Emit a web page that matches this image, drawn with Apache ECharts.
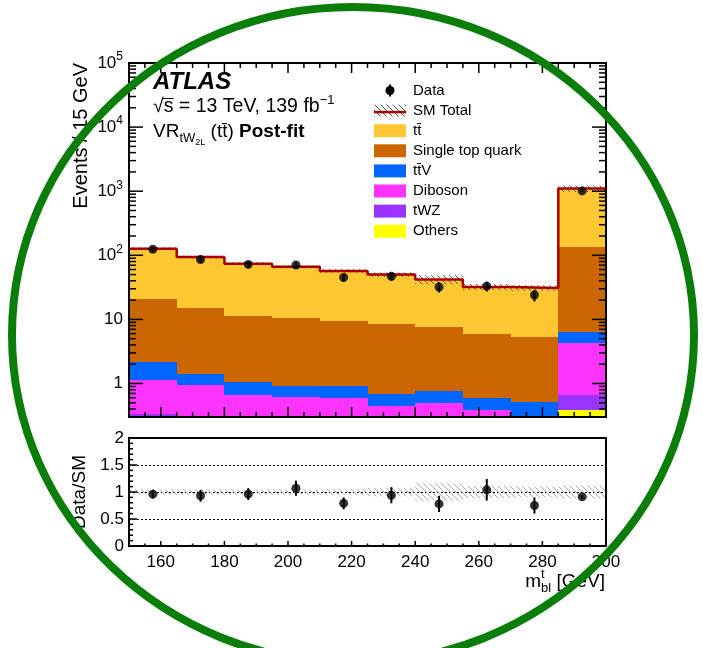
<!DOCTYPE html>
<html><head><meta charset="utf-8">
<script src="https://cdn.jsdelivr.net/npm/echarts@6/dist/echarts.min.js"></script>
<style>html,body{margin:0;padding:0;background:#fff}#c{width:703px;height:648px}</style>
</head><body><div id="c"></div><script>
// ---------------- data ----------------
const binEdges  = [150,165,180,195,210,225,240,255,270,285,300];
const others    = [0.03,0.03,0.03,0.03,0.03,0.03,0.03,0.03,0.03,0.38];
const tWZ       = [0.31,0.22,0.19,0.17,0.17,0.15,0.17,0.12,0.09,0.285];
const diboson   = [0.81,0.70,0.43,0.41,0.40,0.27,0.29,0.23,0.13,3.64];
const ttV       = [1.00,0.47,0.42,0.32,0.31,0.24,0.27,0.21,0.27,2.1];
const singleTop = [18.4,13.8,10.4,9.7,8.4,7.8,6.8,5.4,4.7,128.6];
const ttbar     = [106.5,78.8,62.5,55.4,47.7,41.5,34.4,26.0,25.8,965];
const dataVals  = [124,86,72,70.5,45,47,32,33,24,1010];
const dataErr   = [11,9.3,8.5,8.4,6.7,6.9,5.7,5.7,4.9,32];
const ratioVals = [0.96,0.93,0.96,1.07,0.79,0.94,0.78,1.04,0.75,0.91];
const ratioErr  = [0.08,0.11,0.11,0.14,0.11,0.15,0.15,0.20,0.15,0.03];
const uncRel    = [0.05,0.05,0.05,0.05,0.06,0.08,0.16,0.11,0.10,0.12];
const xLabels   = [160,180,200,220,240,260,280,300];
const yMainMajor = [1,10,100,1000,10000,100000];
const yRatioLabels = [0,0.5,1,1.5,2];

// ---------------- layout / style ----------------
const FONT = "'Liberation Sans', Arial, Helvetica, sans-serif";
const X_LO = 150, X_HI = 300, Y_LO = 0.3, Y_HI = 100000, R_LO = 0, R_HI = 2;
const G1 = {left:129, top:63, width:477, height:354};
const G2 = {left:129, top:438, width:477, height:108};
const procs = [
  {name:'Others', vals:others, color:'#ffff00'},
  {name:'tWZ', vals:tWZ, color:'#9933ff'},
  {name:'Diboson', vals:diboson, color:'#ff33ff'},
  {name:'tt\u0304V', vals:ttV, color:'#0066ff'},
  {name:'Single top quark', vals:singleTop, color:'#cc6600'},
  {name:'tt\u0304', vals:ttbar, color:'#ffc832'}
];
const nb = binEdges.length - 1;
const centers = [];
for (let i = 0; i < nb; i++) centers.push((binEdges[i] + binEdges[i+1]) / 2);

// cumulative stack
const cum = new Array(nb).fill(0);
const stackSeries = [];
procs.forEach((p, k) => {
  const items = [];
  for (let i = 0; i < nb; i++) {
    const b = cum[i]; cum[i] += p.vals[i];
    items.push([binEdges[i], binEdges[i+1], b, cum[i]]);
  }
  stackSeries.push({
    type:'custom', name:p.name, xAxisIndex:0, yAxisIndex:0, z:2+k,
    itemStyle:{color:p.color}, encode:{x:[0,1], y:[2,3]},
    renderItem:(params, api) => {
      const x0 = api.value(0), x1 = api.value(1);
      const b = Math.max(api.value(2), Y_LO), t = api.value(3);
      if (t <= Y_LO) return {type:'group', children:[]};
      const p0 = api.coord([x0, t]), p1 = api.coord([x1, b]);
      const X0 = Math.round(p0[0]), X1 = Math.round(p1[0]), T = Math.round(p0[1]), B = Math.round(p1[1]);
      return {type:'rect', shape:{x:X0, y:T, width:X1-X0, height:B-T},
              style:{fill:api.visual('color')}};
    },
    data:items
  });
});
const total = cum.slice();

function hatch(color, step, lw) {
  const c = document.createElement('canvas'); c.width = step; c.height = step;
  const g = c.getContext('2d'); g.strokeStyle = color; g.lineWidth = lw;
  g.beginPath();
  for (let k = -step; k <= step; k += step) { g.moveTo(k, 0); g.lineTo(k + step, step); }
  g.stroke();
  return c;
}
const hatchMain = hatch('#555', 6, 1);
const hatchRatio = hatch('#aaa', 6, 1);

function bandSeries(xi, yi, items, pattern, z) {
  return {
    type:'custom', xAxisIndex:xi, yAxisIndex:yi, z:z, encode:{x:[0,1], y:[2,3]},
    renderItem:(params, api) => {
      const p0 = api.coord([api.value(0), api.value(3)]), p1 = api.coord([api.value(1), api.value(2)]);
      return {type:'rect', shape:{x:p0[0], y:p0[1], width:p1[0]-p0[0], height:p1[1]-p0[1]},
              style:{fill:{image:pattern, repeat:'repeat'}}};
    },
    data:items
  };
}
const mainBand = [], ratioBand = [];
for (let i = 0; i < nb; i++) {
  mainBand.push([binEdges[i], binEdges[i+1], total[i]*(1-uncRel[i]), total[i]*(1+uncRel[i])]);
  ratioBand.push([binEdges[i], binEdges[i+1], 1-uncRel[i], 1+uncRel[i]]);
}

// total line (step)
const totalLine = [];
for (let i = 0; i < nb; i++) totalLine.push([binEdges[i], total[i]]);
totalLine.push([binEdges[nb], total[nb-1]]);

function errSeries(xi, yi, items, z) {
  return {
    type:'custom', xAxisIndex:xi, yAxisIndex:yi, z:z, encode:{x:0, y:[1,2]},
    renderItem:(params, api) => {
      const a = api.coord([api.value(0), api.value(1)]), b = api.coord([api.value(0), api.value(2)]);
      return {type:'line', shape:{x1:a[0], y1:a[1], x2:b[0], y2:b[1]}, style:{stroke:'#000', lineWidth:2}};
    },
    data:items
  };
}
const dataPts = [], dataErrItems = [], ratioPts = [], ratioErrItems = [];
for (let i = 0; i < nb; i++) {
  dataPts.push([centers[i], dataVals[i]]);
  dataErrItems.push([centers[i], dataVals[i]-dataErr[i], dataVals[i]+dataErr[i]]);
  ratioPts.push([centers[i], ratioVals[i]]);
  ratioErrItems.push([centers[i], ratioVals[i]-ratioErr[i], ratioVals[i]+ratioErr[i]]);
}

// ---------------- ticks (drawn through the axes) ----------------
const mainTicks = [], ratioTicks = [];
for (const v of yMainMajor) { mainTicks.push([X_LO, v, 14, 0]); mainTicks.push([X_HI, v, 14, 1]); }
for (let e = -1; e < 5; e++) for (let m = 2; m <= 9; m++) {
  const v = m * Math.pow(10, e);
  if (v > Y_LO * 0.999 && v < Y_HI) { mainTicks.push([X_LO, v, 7, 0]); mainTicks.push([X_HI, v, 7, 1]); }
}
for (let x = X_LO; x <= X_HI; x += 5) {
  const major = xLabels.indexOf(x) >= 0;
  mainTicks.push([x, Y_LO, major ? 10 : 5, 2]);
  mainTicks.push([x, Y_HI, major ? 10 : 5, 3]);
  ratioTicks.push([x, R_LO, major ? 5 : 2.5, 2]);
}
for (let k = 0; k <= 20; k++) {
  const v = k / 10;
  const major = k % 5 === 0;
  ratioTicks.push([X_LO, v, major ? 8 : 4, 0]);
}
function tickSeries(xi, yi, items, xr, yr) {
  return {
    type:'custom', xAxisIndex:xi, yAxisIndex:yi, z:50, encode:{x:0, y:1}, silent:true,
    renderItem:(params, api) => {
      const x = api.value(0), y = api.value(1), len = api.value(2), d = api.value(3);
      let p, q;
      if (d === 0) { p = api.coord([xr[0], y]); q = [p[0]+len, p[1]]; }
      else if (d === 1) { p = api.coord([xr[1], y]); q = [p[0]-len, p[1]]; }
      else if (d === 2) { p = api.coord([x, yr[0]]); q = [p[0], p[1]-len]; }
      else { p = api.coord([x, yr[1]]); q = [p[0], p[1]+len]; }
      return {type:'line', shape:{x1:p[0], y1:p[1], x2:q[0], y2:q[1]}, style:{stroke:'#000', lineWidth:1.5}};
    },
    data:items
  };
}

// ---------------- text helpers ----------------
const mctx = document.createElement('canvas').getContext('2d');
function fontStr(p) { return (p.style||'') + ' ' + (p.weight||'') + ' ' + p.size + 'px ' + FONT; }
function measure(p) { mctx.font = fontStr(p); return mctx.measureText(p.t).width; }
function run(x, baseline, parts, alignRight) {
  let w = 0; parts.forEach(p => { if (!p.back) w += measure(p); });
  let cx = alignRight ? x - w : x;
  const els = []; let lastStart = cx;
  parts.forEach(p => {
    const px = p.back ? lastStart : cx;
    els.push({type:'text', x:px, y:baseline + (p.dy||0) - 0.35*p.size, z:120,
      style:{text:p.t, font:fontStr(p), fill:'#000', align:'left', textAlign:'left', verticalAlign:'middle', textVerticalAlign:'middle'}});
    if (!p.back) { lastStart = cx; cx += measure(p); }
  });
  return {els, end:cx};
}

const graphics = [];
// frames
[G1, G2].forEach(g => graphics.push({type:'rect', z:110, shape:{x:g.left, y:g.top, width:g.width, height:g.height},
  style:{fill:'transparent', stroke:'#000', lineWidth:2}}));

// ATLAS label
graphics.push(...run(153, 91, [{t:'ATLAS', size:24, weight:'bold', style:'italic'}]).els);
{
  const FS = 19.5;
  const r = run(153, 113.5, [{t:'\u221A', size:FS}, {t:'s', size:FS}, {t:' = 13 TeV, 139 fb', size:FS}, {t:'\u22121', size:13, dy:-9}]);
  graphics.push(...r.els);
  const wr = measure({t:'\u221A', size:FS}), ws = measure({t:'s', size:FS});
  graphics.push({type:'line', z:120, shape:{x1:153+wr-1, y1:113.5-15, x2:153+wr+ws, y2:113.5-15}, style:{stroke:'#000', lineWidth:1}});
}
graphics.push(...run(153, 138.5, [{t:'VR', size:19}, {t:'tW', size:13, dy:4}, {t:'2L', size:9, dy:7}, {t:' (tt\u0304) ', size:19}, {t:'Post-fit', size:19, weight:'bold'}]).els);

// legend
const LX = 374, LW = 32, LH = 13, LTX = 413, LY0 = 90.5, LDY = 20.1;
const legendItems = ['Data', 'SM Total'].concat(procs.slice().reverse().map(p => p.name));
legendItems.forEach((name, i) => {
  const cy = LY0 + i * LDY;
  graphics.push({type:'text', x:LTX, y:cy, z:120, style:{text:name, font:'15px ' + FONT, fill:'#000', align:'left', textAlign:'left', verticalAlign:'middle', textVerticalAlign:'middle'}});
  if (i === 0) {
    graphics.push({type:'line', z:120, shape:{x1:LX+LW/2, y1:cy-6, x2:LX+LW/2, y2:cy+6}, style:{stroke:'#000', lineWidth:2}});
    graphics.push({type:'circle', z:121, shape:{cx:LX+LW/2, cy:cy, r:4.5}, style:{fill:'#000'}});
  } else if (i === 1) {
    graphics.push({type:'rect', z:120, shape:{x:LX, y:cy-6, width:LW, height:12}, style:{fill:{image:hatchMain, repeat:'repeat'}}});
    graphics.push({type:'line', z:121, shape:{x1:LX, y1:cy+1.5, x2:LX+LW, y2:cy+1.5}, style:{stroke:'#aa0000', lineWidth:2.5}});
  } else {
    const p = procs[procs.length - 1 - (i - 2)];
    graphics.push({type:'rect', z:120, shape:{x:LX, y:cy-LH/2, width:LW, height:LH}, style:{fill:p.color}});
  }
});

// axis titles
graphics.push({type:'text', x:81, y:G1.top, rotation:Math.PI/2, z:120,
  style:{text:'Events / 15 GeV', font:'20px ' + FONT, fill:'#000', align:'right', textAlign:'right', verticalAlign:'middle', textVerticalAlign:'middle'}});
graphics.push({type:'text', x:80, y:G2.top + G2.height/2, rotation:Math.PI/2, z:120,
  style:{text:'Data/SM', font:'19px ' + FONT, fill:'#000', align:'center', textAlign:'center', verticalAlign:'middle', textVerticalAlign:'middle'}});
graphics.push(...run(605, 588, [{t:'m', size:19}, {t:'bl', size:13, dy:5}, {t:'t', size:13, dy:-9, back:true}, {t:' [GeV]', size:19}], true).els);

// green circle annotation
graphics.push({type:'ellipse', z:200, shape:{cx:353, cy:335, rx:341, ry:328}, style:{fill:'transparent', stroke:'#0a7d0a', lineWidth:8}});

// ---------------- chart ----------------
const labelBase = {color:'#000', fontFamily:FONT, fontSize:17};
const option = {
  animation:false,
  backgroundColor:'#fff',
  grid:[Object.assign({}, G1, {containLabel:false}), Object.assign({}, G2, {containLabel:false})],
  xAxis:[
    {type:'value', gridIndex:0, min:X_LO, max:X_HI, interval:10, axisLabel:{show:false}, axisLine:{show:false}, axisTick:{show:false}, splitLine:{show:false}},
    {type:'value', gridIndex:1, min:X_LO, max:X_HI, interval:10, axisLine:{show:false}, axisTick:{show:false}, splitLine:{show:false},
     axisLabel:Object.assign({}, labelBase, {margin:8, showMinLabel:true, showMaxLabel:true, formatter:v => xLabels.indexOf(v) >= 0 ? String(v) : ''})}
  ],
  yAxis:[
    {type:'log', gridIndex:0, logBase:10, min:Y_LO, max:Y_HI, axisLine:{show:false}, axisTick:{show:false}, splitLine:{show:false},
     axisLabel:Object.assign({}, labelBase, {margin:6, showMinLabel:true, showMaxLabel:true,
       formatter:v => {
         const e = Math.round(Math.log10(v));
         if (Math.abs(Math.pow(10, e) - v) > 1e-6 * v) return '';
         if (e === 0) return '1';
         if (e === 1) return '10';
         return '{b|10}{s|' + e + '}';
       },
       rich:{b:{fontSize:17, fontFamily:FONT, color:'#000', lineHeight:24}, s:{fontSize:12, fontFamily:FONT, color:'#000', lineHeight:12, verticalAlign:'top'}}})},
    {type:'value', gridIndex:1, min:R_LO, max:R_HI, interval:0.5, axisLine:{show:false}, axisTick:{show:false},
     splitLine:{show:true, lineStyle:{color:'#000', type:[2,2], width:1}},
     axisLabel:Object.assign({}, labelBase, {margin:5, showMinLabel:true, showMaxLabel:true, formatter:v => yRatioLabels.indexOf(v) >= 0 ? String(v) : ''})}
  ],
  graphic:{elements:graphics},
  series:[].concat(stackSeries, [
    bandSeries(0, 0, mainBand, hatchMain, 20),
    {type:'line', xAxisIndex:0, yAxisIndex:0, z:25, step:'end', symbol:'none', data:totalLine,
     lineStyle:{color:'#aa0000', width:2.5}},
    errSeries(0, 0, dataErrItems, 30),
    {type:'scatter', xAxisIndex:0, yAxisIndex:0, z:31, symbol:'circle', symbolSize:9, itemStyle:{color:'#000'}, data:dataPts},
    bandSeries(1, 1, ratioBand, hatchRatio, 20),
    errSeries(1, 1, ratioErrItems, 30),
    {type:'scatter', xAxisIndex:1, yAxisIndex:1, z:31, symbol:'circle', symbolSize:9, itemStyle:{color:'#000'}, data:ratioPts},
    tickSeries(0, 0, mainTicks, [X_LO, X_HI], [Y_LO, Y_HI]),
    tickSeries(1, 1, ratioTicks, [X_LO, X_HI], [R_LO, R_HI])
  ])
};
const chart = echarts.init(document.getElementById('c'), null, {renderer:'canvas'});
chart.setOption(option);
</script></body></html>
